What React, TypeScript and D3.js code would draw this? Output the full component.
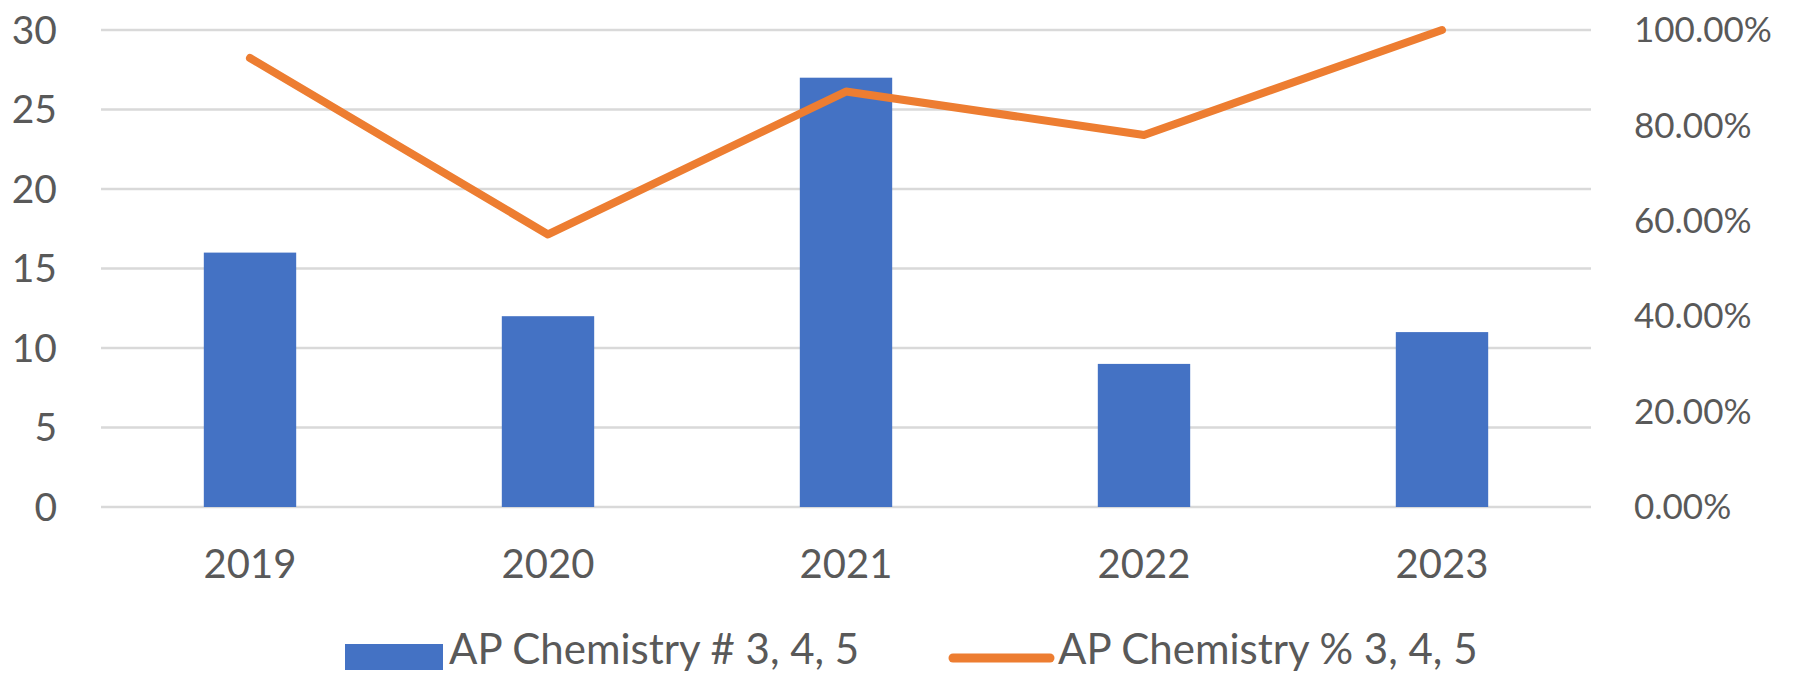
import React from "react";
import * as d3 from "d3";

const years = ["2019", "2020", "2021", "2022", "2023"];
const countPassing = [16, 12, 27, 9, 11];
const pctPassing = [0.9412, 0.5714, 0.871, 0.78, 1.0];
const leftTicks = [0, 5, 10, 15, 20, 25, 30];
const rightTicks = [0, 0.2, 0.4, 0.6, 0.8, 1.0];
const barLabel = "AP Chemistry # 3, 4, 5";
const lineLabel = "AP Chemistry % 3, 4, 5";

const W = 1804;
const H = 674;
const margin = { top: 30, right: 213, bottom: 167, left: 101 };
const BLUE = "#4472C4";
const ORANGE = "#ED7D31";
const TEXT = "#595959";
const FONT = "Lato, 'Open Sans', sans-serif";

export default function App() {
  const innerW = W - margin.left - margin.right;
  const innerH = H - margin.top - margin.bottom;

  const x = d3
    .scaleBand<string>()
    .domain(years)
    .range([0, innerW])
    .paddingInner(0.69)
    .paddingOuter(0.345);

  const yLeft = d3.scaleLinear().domain([0, 30]).range([innerH, 0]);
  const yRight = d3.scaleLinear().domain([0, 1]).range([innerH, 0]);

  const line = d3
    .line<number>()
    .x((d, i) => (x(years[i]) as number) + x.bandwidth() / 2)
    .y((d) => yRight(d));

  const pctFmt = (v: number) => (v * 100).toFixed(2) + "%";

  return (
    <svg
      width={W}
      height={H}
      style={{ position: "absolute", left: 0, top: 0, background: "#fff" }}
      fontFamily={FONT}
    >
      <g transform={`translate(${margin.left},${margin.top})`}>
        {/* gridlines from the left axis */}
        {leftTicks.map((t) => (
          <line
            key={"g" + t}
            x1={0}
            x2={innerW}
            y1={yLeft(t)}
            y2={yLeft(t)}
            stroke="#d9d9d9"
            strokeWidth={2.5}
          />
        ))}

        {leftTicks.map((t) => (
          <text
            key={"l" + t}
            x={-44}
            y={yLeft(t)}
            dy="0.35em"
            textAnchor="end"
            fontSize={39}
            fill={TEXT}
          >
            {t}
          </text>
        ))}

        {rightTicks.map((t) => (
          <text
            key={"r" + t}
            x={innerW + 43}
            y={yRight(t)}
            dy="0.35em"
            textAnchor="start"
            fontSize={35}
            fill={TEXT}
          >
            {pctFmt(t)}
          </text>
        ))}

        {countPassing.map((v, i) => (
          <rect
            key={"b" + i}
            x={x(years[i])}
            y={yLeft(v)}
            width={x.bandwidth()}
            height={innerH - yLeft(v)}
            fill={BLUE}
          />
        ))}

        <path
          d={line(pctPassing) || ""}
          fill="none"
          stroke={ORANGE}
          strokeWidth={8}
          strokeLinecap="round"
          strokeLinejoin="round"
        />

        {years.map((yr) => (
          <text
            key={"x" + yr}
            x={(x(yr) as number) + x.bandwidth() / 2}
            y={innerH + 57}
            dy="0.35em"
            textAnchor="middle"
            fontSize={40}
            fill={TEXT}
          >
            {yr}
          </text>
        ))}
      </g>

      {/* legend */}
      <g>
        <rect x={345} y={644} width={98} height={26} fill={BLUE} />
        <text x={449} y={664} fontSize={42} fill={TEXT}>
          {barLabel}
        </text>
        <line
          x1={953}
          x2={1050}
          y1={658}
          y2={658}
          stroke={ORANGE}
          strokeWidth={9}
          strokeLinecap="round"
        />
        <text x={1058} y={664} fontSize={42} fill={TEXT}>
          {lineLabel}
        </text>
      </g>
    </svg>
  );
}
